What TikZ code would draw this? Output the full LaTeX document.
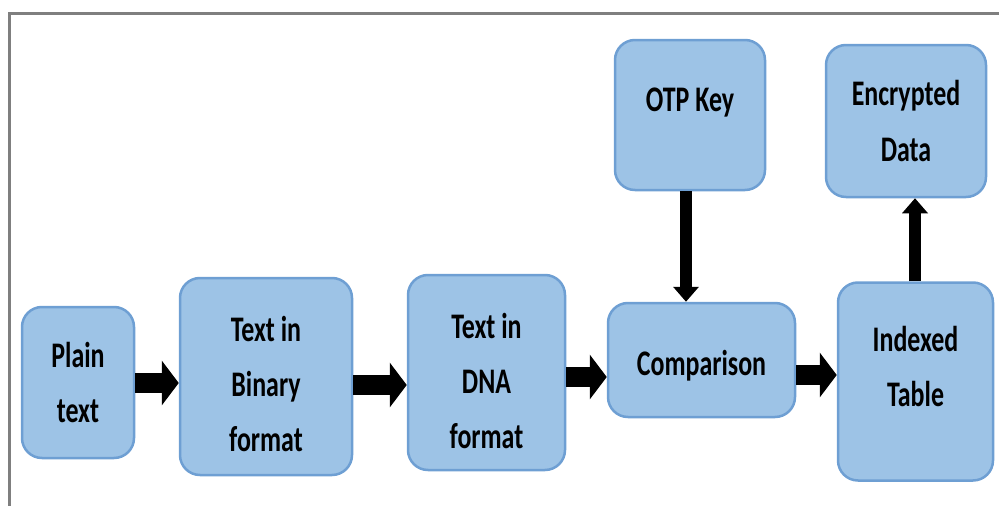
\documentclass[tikz,border=0pt]{standalone}
\usepackage{fontspec}
\setmainfont{Carlito}[FakeStretch=0.72]
\usetikzlibrary{arrows.meta}
\definecolor{boxfill}{HTML}{9DC3E6}
\definecolor{boxline}{HTML}{6E9FD3}
\definecolor{framegray}{HTML}{7F7F7F}
\newcommand{\topstrut}[1]{\rule{0pt}{#1}}
\tikzset{
  stagebox/.style={draw=boxline, fill=boxfill, line width=2.5pt, rounded corners=20pt,
    inner sep=0pt, align=center, font=\bfseries\fontsize{36}{55}\selectfont},
  flowarrow/.style={line width=20pt, -{Triangle[length=17pt,width=44pt]}},
  upflow/.style={line width=12pt, -{Triangle[length=15pt,width=25pt]}}
}
\begin{document}
\begin{tikzpicture}[x=1pt,y=-1pt]
  \useasboundingbox (0,0) rectangle (999,506);
  % Frame
  \draw[framegray, line width=3pt] (9.5,506) -- (9.5,13) -- (999,13);

  % Stages
  \node[stagebox, minimum width=112pt, minimum height=151pt] (plain) at (78,382.5) {Plain\\text};
  \node[stagebox, minimum width=172pt, minimum height=197pt] (binary) at (266,376.5) {\topstrut{40pt}Text in\\Binary\\format};
  \node[stagebox, minimum width=157pt, minimum height=195pt] (dna) at (486.5,372.5) {\topstrut{42pt}Text in\\DNA\\format};
  \node[stagebox, minimum width=187pt, minimum height=114pt] (comp) at (701.5,360) {\topstrut{37pt}Comparison};
  \node[stagebox, minimum width=150pt, minimum height=150pt, text depth=30pt] (otp) at (690,115) {OTP Key};
  \node[stagebox, minimum width=160pt, minimum height=152pt] (enc) at (906,121) {Encrypted\\Data};
  \node[stagebox, minimum width=155pt, minimum height=198pt, text depth=30pt] (idx) at (915.5,381.5) {Indexed\\Table};

  % Arrows
  \draw[flowarrow] (plain.east |- 0,383) -- (binary.west |- 0,383);
  \draw[flowarrow] (binary.east |- 0,385) -- (dna.west |- 0,385);
  \draw[flowarrow] (dna.east |- 0,377) -- (comp.west |- 0,377);
  \draw[flowarrow] (comp.east |- 0,375) -- (idx.west |- 0,375);
  \draw[upflow] (otp.south -| 686,0) -- (comp.north -| 686,0);
  \draw[upflow] (idx.north -| 915,0) -- (enc.south -| 915,0);
\end{tikzpicture}
\end{document}
